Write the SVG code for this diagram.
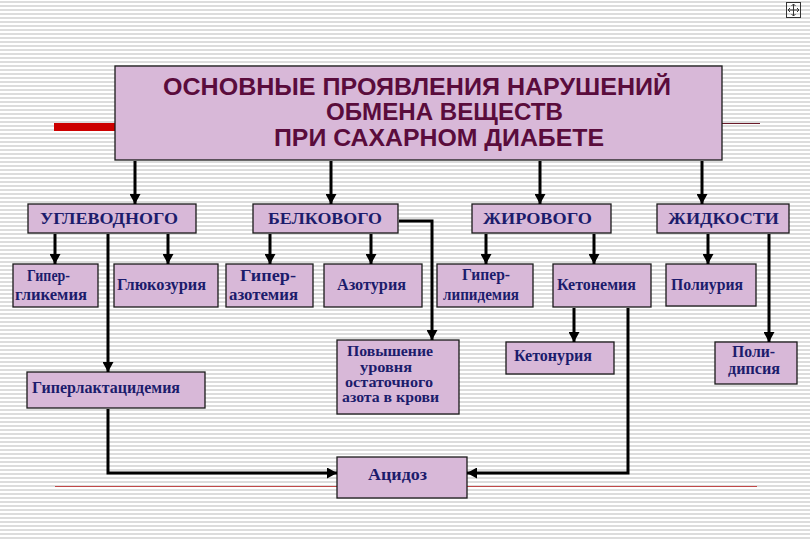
<svg xmlns="http://www.w3.org/2000/svg" width="810" height="540" viewBox="0 0 810 540">
<defs>
<pattern id="stripes" width="8" height="4" patternUnits="userSpaceOnUse">
<rect width="8" height="4" fill="#ffffff"/>
<rect y="1" width="8" height="2" fill="#dcdcdc"/>
</pattern>
<marker id="ah" markerUnits="userSpaceOnUse" markerWidth="11" markerHeight="11" refX="10" refY="5.5" orient="auto">
<path d="M0,0 L10,5.5 L0,11 z" fill="#000"/>
</marker>
<style>
.box{fill:#d8b8d8;stroke:#1a1a1a;stroke-width:1.3}
.t{font-family:"Liberation Serif","Times New Roman",serif;font-weight:bold;fill:#1c1c6c;font-size:16px}
.cat{font-size:17px}
.sm{font-size:15px}
.title{font-family:"Liberation Sans",Arial,sans-serif;font-weight:bold;fill:#5a0c3c;font-size:24px}
.c{fill:none;stroke:#000;stroke-width:3}
.a{marker-end:url(#ah)}
</style>
</defs>
<rect width="810" height="540" fill="url(#stripes)"/>
<g id="decor">
<rect x="54" y="123" width="61" height="8" fill="#cc0000"/>
<line x1="722" y1="123.5" x2="760" y2="123.5" stroke="#6a1a2a" stroke-width="1.2"/>
<line x1="55" y1="486.5" x2="757" y2="486.5" stroke="#c04848" stroke-width="1"/>
<g id="nav-icon" fill="none" stroke="#333" stroke-width="1">
<rect x="786.5" y="2.5" width="14" height="15"/>
<path d="M793.5,4 V16 M788,10 H799 M791.5,6 L793.5,4 L795.5,6 M791.5,14 L793.5,16 L795.5,14 M790,8 L788,10 L790,12 M797,8 L799,10 L797,12"/>
</g>
</g>
<g id="title">
<rect class="box" x="115" y="66" width="607" height="94"/>
<text class="title" x="163" y="95" textLength="508" lengthAdjust="spacingAndGlyphs">ОСНОВНЫЕ  ПРОЯВЛЕНИЯ  НАРУШЕНИЙ</text>
<text class="title" x="326" y="120" textLength="237" lengthAdjust="spacingAndGlyphs">ОБМЕНА  ВЕЩЕСТВ</text>
<text class="title" x="274" y="146" textLength="330" lengthAdjust="spacingAndGlyphs">ПРИ  САХАРНОМ  ДИАБЕТЕ</text>
</g>
<g id="uglevodnogo">
<rect class="box" x="28" y="204" width="168" height="29"/>
<text class="t cat" x="40" y="224" textLength="138" lengthAdjust="spacingAndGlyphs">УГЛЕВОДНОГО</text>
</g>
<g id="belkovogo">
<rect class="box" x="253" y="204" width="145" height="29"/>
<text class="t cat" x="268" y="224" textLength="114" lengthAdjust="spacingAndGlyphs">БЕЛКОВОГО</text>
</g>
<g id="zhirovogo">
<rect class="box" x="472" y="204" width="139" height="29"/>
<text class="t cat" x="483" y="224" textLength="109" lengthAdjust="spacingAndGlyphs">ЖИРОВОГО</text>
</g>
<g id="zhidkosti">
<rect class="box" x="657" y="204" width="132" height="29"/>
<text class="t cat" x="668" y="224" textLength="111" lengthAdjust="spacingAndGlyphs">ЖИДКОСТИ</text>
</g>
<g id="giperglikemia">
<rect class="box" x="13" y="264" width="85" height="43"/>
<text class="t" x="27" y="281" textLength="43" lengthAdjust="spacingAndGlyphs">Гипер-</text>
<text class="t" x="15" y="300" textLength="72" lengthAdjust="spacingAndGlyphs">гликемия</text>
</g>
<g id="glukozuria">
<rect class="box" x="114" y="264" width="104" height="43"/>
<text class="t" x="117" y="290" textLength="89" lengthAdjust="spacingAndGlyphs">Глюкозурия</text>
</g>
<g id="giperazotemia">
<rect class="box" x="226" y="264" width="87" height="43"/>
<text class="t" x="240" y="281" textLength="56" lengthAdjust="spacingAndGlyphs">Гипер-</text>
<text class="t" x="229" y="300" textLength="69" lengthAdjust="spacingAndGlyphs">азотемия</text>
</g>
<g id="azoturia">
<rect class="box" x="324" y="264" width="98" height="43"/>
<text class="t" x="337" y="290" textLength="69" lengthAdjust="spacingAndGlyphs">Азотурия</text>
</g>
<g id="giperlipidemia">
<rect class="box" x="437" y="264" width="96" height="43"/>
<text class="t" x="462" y="280" textLength="48" lengthAdjust="spacingAndGlyphs">Гипер-</text>
<text class="t" x="443" y="300" textLength="76" lengthAdjust="spacingAndGlyphs">липидемия</text>
</g>
<g id="ketonemia">
<rect class="box" x="553" y="264" width="98" height="43"/>
<text class="t" x="557" y="290" textLength="79" lengthAdjust="spacingAndGlyphs">Кетонемия</text>
</g>
<g id="poliuria">
<rect class="box" x="666" y="264" width="90" height="42"/>
<text class="t" x="671" y="290" textLength="72" lengthAdjust="spacingAndGlyphs">Полиурия</text>
</g>
<g id="giperlaktacidemia">
<rect class="box" x="27" y="372" width="178" height="36"/>
<text class="t" x="32" y="393" textLength="148" lengthAdjust="spacingAndGlyphs">Гиперлактацидемия</text>
</g>
<g id="povyshenie">
<rect class="box" x="337" y="340" width="122" height="74"/>
<text class="t sm" x="347" y="356" textLength="86" lengthAdjust="spacingAndGlyphs">Повышение</text>
<text class="t sm" x="360" y="372" textLength="52" lengthAdjust="spacingAndGlyphs">уровня</text>
<text class="t sm" x="345" y="387" textLength="88" lengthAdjust="spacingAndGlyphs">остаточного</text>
<text class="t sm" x="342" y="402" textLength="97" lengthAdjust="spacingAndGlyphs">азота в крови</text>
</g>
<g id="ketonuria">
<rect class="box" x="506" y="342" width="108" height="32"/>
<text class="t" x="514" y="361" textLength="78" lengthAdjust="spacingAndGlyphs">Кетонурия</text>
</g>
<g id="polidipsia">
<rect class="box" x="715" y="342" width="82" height="42"/>
<text class="t" x="732" y="357" textLength="43" lengthAdjust="spacingAndGlyphs">Поли-</text>
<text class="t" x="728" y="374" textLength="52" lengthAdjust="spacingAndGlyphs">дипсия</text>
</g>
<g id="acidoz">
<rect class="box" x="337" y="457" width="130" height="41"/>
<text class="t" x="368" y="480" font-size="18" textLength="59" lengthAdjust="spacingAndGlyphs">Ацидоз</text>
</g>
<g id="connectors">
<line class="c a" x1="135" y1="161" x2="135" y2="204"/>
<line class="c a" x1="331" y1="161" x2="331" y2="204"/>
<line class="c a" x1="540" y1="161" x2="540" y2="204"/>
<line class="c a" x1="702" y1="161" x2="702" y2="204"/>
<line class="c a" x1="55" y1="234" x2="55" y2="264"/>
<line class="c a" x1="168" y1="234" x2="168" y2="264"/>
<line class="c a" x1="270" y1="234" x2="270" y2="264"/>
<line class="c a" x1="371" y1="234" x2="371" y2="264"/>
<line class="c a" x1="486" y1="234" x2="486" y2="264"/>
<line class="c a" x1="594" y1="234" x2="594" y2="264"/>
<line class="c a" x1="708" y1="234" x2="708" y2="264"/>
<line class="c a" x1="108" y1="234" x2="108" y2="372"/>
<polyline class="c a" points="399,221 432,221 432,340"/>
<line class="c a" x1="574" y1="308" x2="574" y2="342"/>
<line class="c a" x1="769" y1="234" x2="769" y2="342"/>
<polyline class="c a" points="628,308 628,473 467,473"/>
<polyline class="c a" points="108,409 108,473 337,473"/>
</g>
</svg>
